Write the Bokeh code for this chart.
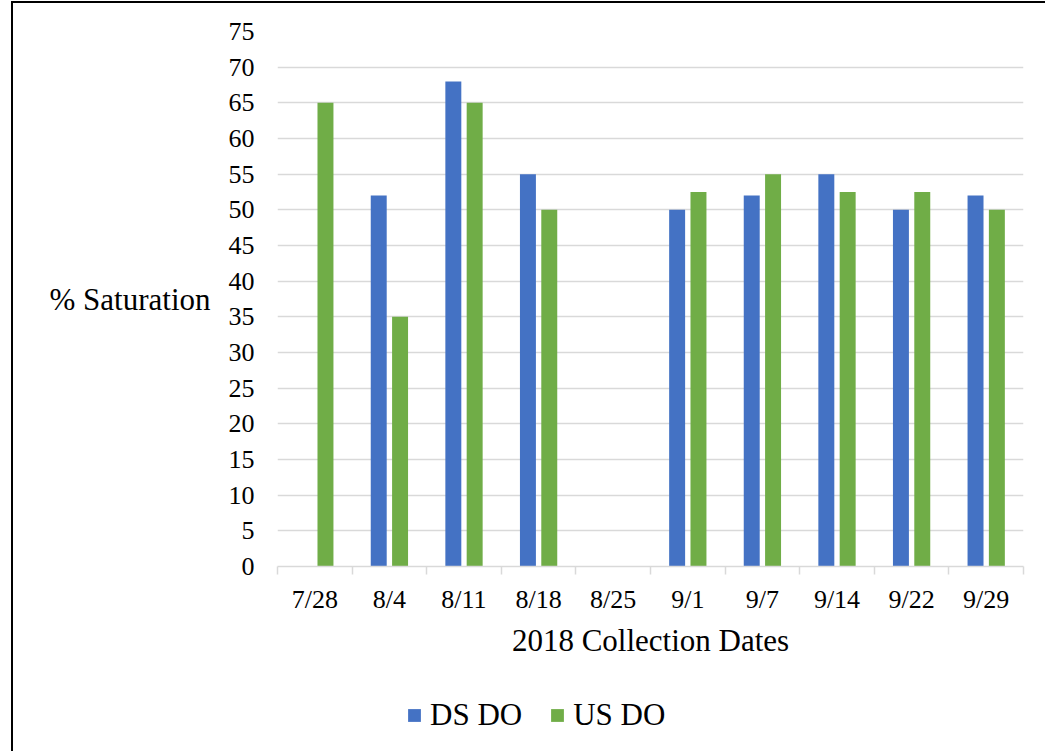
from bokeh.plotting import figure
from bokeh.layouts import column
from bokeh.models import (FactorRange, LinearAxis, CategoricalAxis, FixedTicker,
                          SingleIntervalTicker, Legend, LegendItem, ColumnDataSource,
                          Range1d)
from bokeh.transform import dodge
from bokeh.embed import file_html
from bokeh.resources import INLINE

dates = ["7/28", "8/4", "8/11", "8/18", "8/25", "9/1", "9/7", "9/14", "9/22", "9/29"]
ds_do = [float("nan"), 52, 68, 55, float("nan"), 50, 52, 55, 50, 52]
us_do = [65, 35, 65, 50, float("nan"), 52.5, 55, 52.5, 52.5, 50]
series_names = ["DS DO", "US DO"]
colors = ["#4472C4", "#70AD47"]

FONT = "Liberation Serif"
W, H1, H2 = 1032, 687, 61

src = ColumnDataSource(dict(date=dates, ds=ds_do, us=us_do))

p = figure(x_range=FactorRange(*dates), y_range=(0, 75), width=W, height=H1,
           output_backend="svg", toolbar_location=None, x_axis_location=None,
           y_axis_location=None)
p.min_border_left = 264
p.min_border_top = 28
p.min_border_right = 22
p.min_border_bottom = 124
p.outline_line_color = None
p.background_fill_color = "white"
p.border_fill_color = "white"

# y axis
yax = LinearAxis(ticker=SingleIntervalTicker(interval=5))
yax.axis_line_color = None
yax.major_tick_line_color = None
yax.minor_tick_line_color = None
yax.major_tick_out = 0
yax.major_tick_in = 0
yax.major_label_standoff = 19
yax.major_label_text_font = FONT
yax.major_label_text_font_size = "26px"
yax.major_label_text_color = "black"
yax.axis_label = "% Saturation"
yax.axis_label_orientation = "horizontal"
yax.axis_label_standoff = 15
yax.axis_label_text_font = FONT
yax.axis_label_text_font_size = "31px"
yax.axis_label_text_font_style = "normal"
yax.axis_label_text_color = "black"
p.add_layout(yax, "left")

# x axis: boundary ticks
xticks = LinearAxis(ticker=FixedTicker(ticks=list(range(len(dates) + 1))))
xticks.axis_line_color = "#d9d9d9"
xticks.axis_line_width = 1.5
xticks.major_tick_line_color = "#d9d9d9"
xticks.major_tick_line_width = 1.5
xticks.major_tick_out = 8
xticks.major_tick_in = 0
xticks.minor_tick_line_color = None
xticks.major_label_text_font_size = "0px"
xticks.major_label_standoff = 0
xticks.major_label_overrides = {i: "" for i in range(len(dates) + 1)}
p.add_layout(xticks, "below")

# x axis: category labels
xcat = CategoricalAxis()
xcat.axis_line_color = None
xcat.major_tick_line_color = None
xcat.major_tick_out = 0
xcat.major_tick_in = 0
xcat.major_label_standoff = 10
xcat.major_label_text_font = FONT
xcat.major_label_text_font_size = "26px"
xcat.major_label_text_color = "black"
xcat.axis_label = "2018 Collection Dates"
xcat.axis_label_text_font = FONT
xcat.axis_label_text_font_size = "31px"
xcat.axis_label_text_font_style = "normal"
xcat.axis_label_text_color = "black"
xcat.axis_label_standoff = 6
p.add_layout(xcat, "below")

p.ygrid.grid_line_color = "#d9d9d9"
p.ygrid.grid_line_width = 1.6
p.ygrid.ticker = SingleIntervalTicker(interval=5)
p.xgrid.grid_line_color = None

p.vbar(x=dodge("date", -0.143, range=p.x_range), top="ds", width=0.214,
       source=src, color=colors[0], line_color=None)
p.vbar(x=dodge("date", 0.143, range=p.x_range), top="us", width=0.214,
       source=src, color=colors[1], line_color=None)

# legend strip (its own renderers of the same series, kept out of view)
p2 = figure(width=W, height=H2, x_range=FactorRange(*dates), y_range=Range1d(100, 101),
            output_backend="svg", toolbar_location=None,
            x_axis_location=None, y_axis_location=None)
p2.min_border = 0
p2.outline_line_color = None
p2.grid.grid_line_color = None
p2.background_fill_color = "white"
p2.border_fill_color = "white"
l1 = p2.vbar(x="date", top="ds", width=0.2, source=src, color=colors[0], line_color=None)
l2 = p2.vbar(x="date", top="us", width=0.2, source=src, color=colors[1], line_color=None)
legend = Legend(items=[LegendItem(label=series_names[0], renderers=[l1]),
                       LegendItem(label=series_names[1], renderers=[l2])],
                location=(129, 18), orientation="horizontal")
legend.glyph_width = 16
legend.glyph_height = 16
legend.label_standoff = 8
legend.spacing = 27
legend.padding = 0
legend.margin = 0
legend.border_line_color = None
legend.background_fill_alpha = 0
legend.label_text_font = FONT
legend.label_text_font_size = "31px"
legend.label_text_color = "black"
p2.add_layout(legend, "center")

layout = column(p, p2, spacing=0)
layout.styles = {"border-left": "2px solid black", "border-top": "2px solid black",
                 "margin-left": "11px", "margin-top": "1px"}

open("out.html", "w").write(file_html(layout, INLINE))
